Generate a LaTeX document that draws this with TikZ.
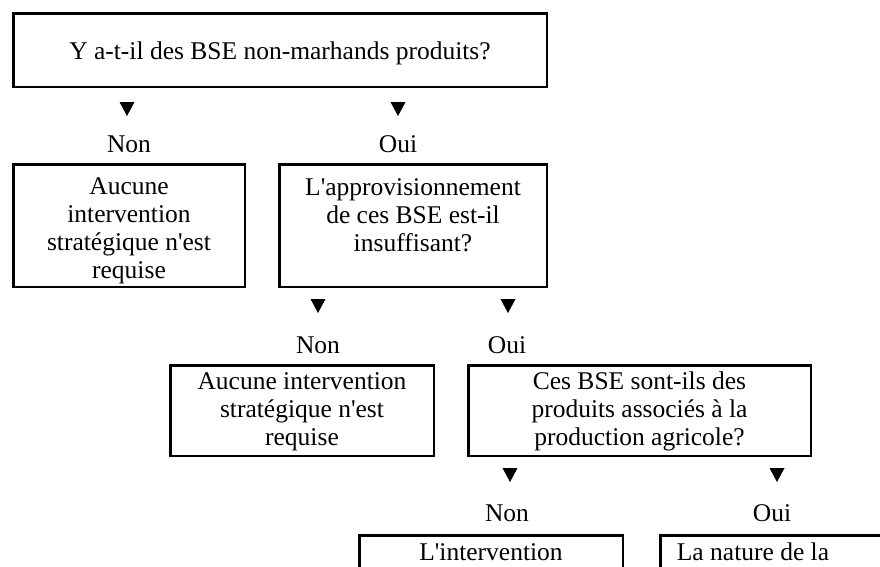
\documentclass[tikz,border=0pt]{standalone}
\usepackage{fontspec}
\setmainfont{Liberation Serif}[Ligatures=TeXOff]
\newcommand\boxfont{\fontsize{25.5}{28}\selectfont}
% filled down-pointing marker centred on a named coordinate
\newcommand\downmark[1]{\fill (#1) ++(-7.5,-7) -- ++(15,0) -- ++(-7.5,14) -- cycle;}
\begin{document}
\begin{tikzpicture}[x=1pt,y=-1pt,
  frame/.style={draw, line width=2.5pt, inner sep=0pt},
  txt/.style={font=\boxfont, inner sep=0pt, align=center, anchor=north},
  lbl/.style={font=\boxfont, inner sep=0pt, anchor=base}]
\useasboundingbox (0,0) rectangle (880,566);
\clip (0,0) rectangle (880,566);

% question 1
\node[frame, minimum width=533.5pt, minimum height=73.5pt] (q1) at (280,50) {};
\node[txt] (q1t) at (280,41.6) {Y a-t-il des BSE non-marhands produits?};
\coordinate (m1a) at (127,109);
\coordinate (m1b) at (398,109);
\downmark{m1a}\downmark{m1b}
\node[lbl] (n1) at (129,152) {Non};
\node[lbl] (o1) at (398,152) {Oui};

% row 2
\node[frame, minimum width=231.5pt, minimum height=122.5pt] (r2a) at (129,225.5) {};
\node[txt] (r2at) at (129,177.6) {Aucune\\intervention\\stratégique n'est\\requise};
\node[frame, minimum width=267.5pt, minimum height=122.5pt] (q2) at (413,225.5) {};
\node[txt] (q2t) at (413,178.6) {L'approvisionnement\\de ces BSE est-il\\insuffisant?};
\coordinate (m2a) at (318,306);
\coordinate (m2b) at (508,306);
\downmark{m2a}\downmark{m2b}
\node[lbl] (n2) at (318,353) {Non};
\node[lbl] (o2) at (507,353) {Oui};

% row 3
\node[frame, minimum width=263.5pt, minimum height=90.5pt] (r3a) at (302,410.5) {};
\node[txt] (r3at) at (302,372.6) {Aucune intervention\\stratégique n'est\\requise};
\node[frame, minimum width=342.5pt, minimum height=90.5pt] (q3) at (639.5,410.5) {};
\node[txt] (q3t) at (639.5,371.6) {Ces BSE sont-ils des\\produits associés à la\\production agricole?};
\coordinate (m3a) at (510,475);
\coordinate (m3b) at (777,475);
\downmark{m3a}\downmark{m3b}
\node[lbl] (n3) at (507,521) {Non};
\node[lbl] (o3) at (772,521) {Oui};

% row 4 (running past the lower edge)
\node[frame, anchor=north, minimum width=263.5pt, minimum height=80pt] (r4a) at (491,534.25) {};
\node[txt] (r4at) at (491,543) {L'intervention};
\node[frame, anchor=north west, minimum width=260pt, minimum height=80pt] (r4b) at (659.25,534.25) {};
\node[txt] (r4bt) at (753,543) {La nature de la};
\end{tikzpicture}
\end{document}
